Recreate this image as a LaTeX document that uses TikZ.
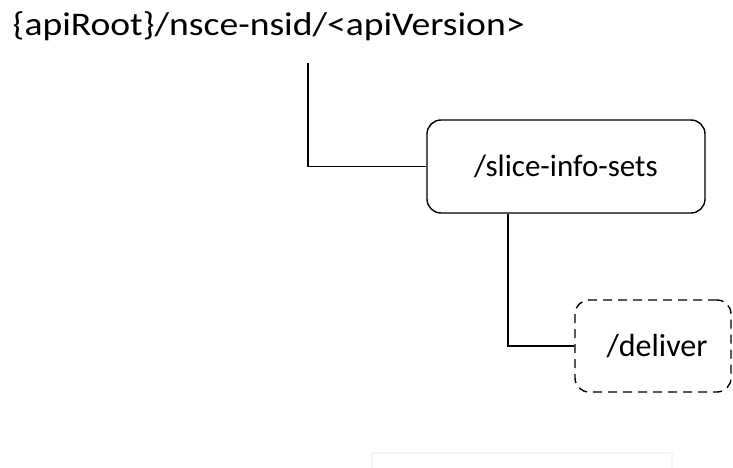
\documentclass[tikz,border=0pt]{standalone}
\usepackage{fontspec}
\setmainfont{Carlito}
\usetikzlibrary{positioning}

\tikzset{
    resbox/.style={draw, line width=1.4pt, rounded corners=14pt, minimum width=278pt, minimum height=93pt, font=\fontsize{31}{36}\selectfont},
    optbox/.style={resbox, dash pattern=on 9pt off 6pt, minimum width=156pt, minimum height=92pt, font=\fontsize{32}{37}\selectfont},
    link/.style={line width=1.4pt}
}

\begin{document}
\begin{tikzpicture}[x=1pt, y=-1pt]
    \useasboundingbox (0,0) rectangle (733,468);

    % Root path
    \node[font=\fontsize{33}{38}\selectfont, anchor=base west, inner sep=0pt] (root) at (12.5,36) {\scalebox{1.14}[1]{\{apiRoot\}/nsce-nsid/<apiVersion>}};
    \coordinate (rootTap) at (308,63);

    % Resources
    \node[resbox] (sliceInfoSets) at (566,166.5) {/slice-info-sets};
    \node[optbox] (deliver) at (653,346) {\hspace{8pt}/deliver};

    % Tree links
    \draw[link] (rootTap) |- (sliceInfoSets.west);
    \draw[link] ([xshift=-58pt]sliceInfoSets.south) |- (deliver.west);

    % Faint frame at the bottom
    \draw[black!4, line width=2pt] (372,470) -- (372,453) -- (672,453) -- (672,470);
\end{tikzpicture}
\end{document}
